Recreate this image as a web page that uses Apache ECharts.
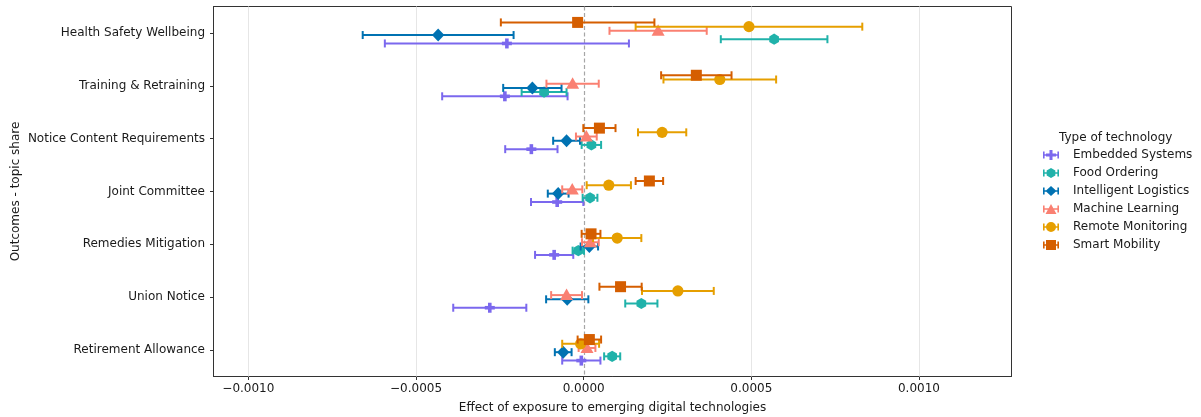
<!DOCTYPE html>
<html>
<head>
<meta charset="utf-8">
<script src="https://cdn.jsdelivr.net/npm/echarts@6/dist/echarts.min.js"></script>
<style>
  html, body { margin: 0; padding: 0; background: #fff; }
  #chart { width: 1201px; height: 417px; }
</style>
</head>
<body>
<div id="chart"></div>
<script>
// Outcome topics (top to bottom)
const categories = [
  'Health Safety Wellbeing',
  'Training & Retraining',
  'Notice Content Requirements',
  'Joint Committee',
  'Remedies Mitigation',
  'Union Notice',
  'Retirement Allowance'
];

// Technology groups in legend order
const technologies = [
  'Embedded Systems',
  'Food Ordering',
  'Intelligent Logistics',
  'Machine Learning',
  'Remote Monitoring',
  'Smart Mobility'
];

// Point estimates (x 1e-4) per outcome
const estEmbedded     = [-2.29, -2.35, -1.56, -0.79, -0.88, -2.80, -0.07];
const estFood         = [ 5.68, -1.18,  0.23,  0.19, -0.16,  1.72,  0.85];
const estLogistics    = [-4.34, -1.53, -0.51, -0.76,  0.17, -0.49, -0.61];
const estMachine      = [ 2.22, -0.33,  0.08, -0.34,  0.20, -0.51,  0.10];
const estRemote       = [ 4.93,  4.06,  2.34,  0.75,  1.00,  2.81, -0.09];
const estMobility     = [-0.18,  3.36,  0.47,  1.96,  0.22,  1.10,  0.17];

// Confidence interval half-widths (x 1e-4)
const errEmbedded     = [3.64, 1.87, 0.78, 0.78, 0.57, 1.09, 0.57];
const errFood         = [1.59, 0.67, 0.29, 0.22, 0.17, 0.48, 0.24];
const errLogistics    = [2.25, 0.87, 0.40, 0.31, 0.26, 0.63, 0.25];
const errMachine      = [1.45, 0.78, 0.31, 0.30, 0.25, 0.46, 0.25];
const errRemote       = [3.38, 1.68, 0.72, 0.66, 0.72, 1.07, 0.55];
const errMobility     = [2.29, 1.05, 0.48, 0.41, 0.28, 0.63, 0.35];

// Tick positions on the effect axis
const xTicks = [-0.0010, -0.0005, 0.0000, 0.0005, 0.0010];

const SCALE = 1e-4;
const estimates = [estEmbedded, estFood, estLogistics, estMachine, estRemote, estMobility];
const errors    = [errEmbedded, errFood, errLogistics, errMachine, errRemote, errMobility];

const colors  = ['#7B68EE', '#20B2AA', '#0072B2', '#FA8072', '#E69F00', '#D55E00'];
const shapes  = ['plus', 'hexagon', 'diamond', 'triangle', 'circle', 'square'];
// vertical dodge within a category band (fraction of band height, positive = lower)
const dodge   = [0.199, 0.119, 0.040, -0.040, -0.119, -0.199];

// legend icons: error bar with caps plus the marker
const capPath = 'M0,1.5 h1.6 v7 h-1.6 Z M14.4,1.5 h1.6 v7 h-1.6 Z M0,4.2 h16 v1.6 h-16 Z ';
const markerPaths = {
  plus: 'M6.5,0 h3 v10 h-3 Z M3,3.5 h10 v3 h-10 Z',
  hexagon: 'M8,0 L12.33,2.5 L12.33,7.5 L8,10 L3.67,7.5 L3.67,2.5 Z',
  diamond: 'M8,0 L13.5,5 L8,10 L2.5,5 Z',
  triangle: 'M8,0 L13.5,10 L2.5,10 Z',
  circle: 'M8,0 A5,5 0 1,1 8,10 A5,5 0 1,1 8,0 Z',
  square: 'M3,0 h10 v10 h-10 Z'
};

function markerShape(kind, x, y, color) {
  const style = { fill: color };
  switch (kind) {
    case 'square':
      return { type: 'rect', shape: { x: x - 5.5, y: y - 5.5, width: 11, height: 11 }, style };
    case 'circle':
      return { type: 'circle', shape: { cx: x, cy: y, r: 5.6 }, style };
    case 'triangle':
      return { type: 'polygon', shape: { points: [[x, y - 6.5], [x + 6.5, y + 5], [x - 6.5, y + 5]] }, style };
    case 'diamond':
      return { type: 'polygon', shape: { points: [[x, y - 6.5], [x + 6.2, y], [x, y + 6.5], [x - 6.2, y]] }, style };
    case 'hexagon': {
      const r = 5.6, pts = [];
      for (let k = 0; k < 6; k++) {
        const a = (-90 + 60 * k) * Math.PI / 180;
        pts.push([x + r * Math.cos(a), y + r * Math.sin(a)]);
      }
      return { type: 'polygon', shape: { points: pts }, style };
    }
    case 'plus':
    default:
      return {
        type: 'group',
        children: [
          { type: 'rect', shape: { x: x - 1.8, y: y - 5, width: 3.6, height: 10 }, style },
          { type: 'rect', shape: { x: x - 5, y: y - 1.8, width: 10, height: 3.6 }, style }
        ]
      };
  }
}

const series = technologies.map((name, s) => ({
  name,
  type: 'custom',
  coordinateSystem: 'cartesian2d',
  encode: { x: 0, y: 1 },
  data: categories.map((c, i) => [
    estimates[s][i] * SCALE,
    i,
    (estimates[s][i] - errors[s][i]) * SCALE,
    (estimates[s][i] + errors[s][i]) * SCALE
  ]),
  renderItem: (params, api) => {
    const band = api.size([0, 1])[1];
    const c  = api.coord([api.value(0), api.value(1)]);
    const lo = api.coord([api.value(2), api.value(1)]);
    const hi = api.coord([api.value(3), api.value(1)]);
    const y = c[1] + dodge[s] * band;
    const lineStyle = { stroke: colors[s], lineWidth: 2 };
    return {
      type: 'group',
      children: [
        { type: 'line', shape: { x1: lo[0], y1: y, x2: hi[0], y2: y }, style: lineStyle },
        { type: 'line', shape: { x1: lo[0], y1: y - 4, x2: lo[0], y2: y + 4 }, style: lineStyle },
        { type: 'line', shape: { x1: hi[0], y1: y - 4, x2: hi[0], y2: y + 4 }, style: lineStyle },
        markerShape(shapes[s], c[0], y, colors[s])
      ]
    };
  },
  z: 2 + s
}));

// reference lines at the tick positions, dashed at zero
series.push({
  type: 'custom',
  coordinateSystem: 'cartesian2d',
  silent: true,
  data: xTicks.map(v => [v, 0]),
  encode: { x: 0, y: 1 },
  renderItem: (params, api) => {
    const v = api.value(0);
    const p = api.coord([v, 0]);
    const x = Math.round(p[0]) + 0.5;
    const top = params.coordSys.y, h = params.coordSys.height;
    const isZero = Math.abs(v) < 1e-12;
    return {
      type: 'line',
      shape: { x1: x, y1: top, x2: x, y2: top + h },
      style: isZero
        ? { stroke: '#a6a6a6', lineWidth: 1.2, lineDash: [4, 2.5] }
        : { stroke: '#e6e6e6', lineWidth: 1 }
    };
  },
  z: 1
});

const fmt = v => {
  if (Math.abs(v) < 1e-12) return '0.0000';
  return (v < 0 ? '\u2212' : '') + Math.abs(v).toFixed(4);
};

const FONT = 'DejaVu Sans';
const INK = '#1a1a1a';

const option = {
  animation: false,
  backgroundColor: '#ffffff',
  textStyle: { fontFamily: FONT },
  title: {
    text: 'Type of technology',
    left: 1059,
    top: 132,
    textStyle: { fontFamily: FONT, fontSize: 12, fontWeight: 'normal', color: INK },
    padding: 0
  },
  legend: {
    orient: 'vertical',
    left: 1043,
    top: 148.5,
    padding: 0,
    itemGap: 5,
    itemWidth: 16,
    itemHeight: 10,
    data: technologies.map((name, s) => ({
      name,
      icon: 'path://' + capPath + markerPaths[shapes[s]],
      itemStyle: { color: colors[s] }
    })),
    textStyle: { fontFamily: FONT, fontSize: 12, color: INK, lineHeight: 13, padding: [0, 0, 0, 9] }
  },
  grid: {
    left: 213.5,
    top: 6.5,
    width: 798,
    height: 370,
    show: true,
    borderColor: '#333',
    borderWidth: 1,
    containLabel: false,
    outerBoundsMode: 'none'
  },
  xAxis: {
    type: 'value',
    min: -0.001104,
    max: 0.001276,
    name: 'Effect of exposure to emerging digital technologies',
    nameLocation: 'middle',
    nameGap: 25,
    nameTextStyle: { fontFamily: FONT, fontSize: 12, color: INK },
    axisLine: { show: true, onZero: false, lineStyle: { color: '#333' } },
    axisTick: { show: true, length: 3.5, lineStyle: { color: '#333' }, customValues: xTicks },
    axisLabel: { fontFamily: FONT, fontSize: 12, color: INK, margin: 6, customValues: xTicks, formatter: fmt },
    splitLine: { show: false }
  },
  yAxis: {
    type: 'category',
    inverse: true,
    data: categories,
    name: 'Outcomes - topic share',
    nameLocation: 'middle',
    nameRotate: 90,
    nameGap: 192,
    nameMoveOverlap: false,
    nameTextStyle: { fontFamily: FONT, fontSize: 12, color: INK },
    axisLine: { show: true, onZero: false, lineStyle: { color: '#333' } },
    axisTick: { show: true, alignWithLabel: true, length: 3.5, lineStyle: { color: '#333' } },
    axisLabel: { fontFamily: FONT, fontSize: 12, color: INK, margin: 8.5 },
    splitLine: { show: false }
  },
  series
};

const chart = echarts.init(document.getElementById('chart'), null, { renderer: 'canvas' });
chart.setOption(option);
</script>
</body>
</html>
